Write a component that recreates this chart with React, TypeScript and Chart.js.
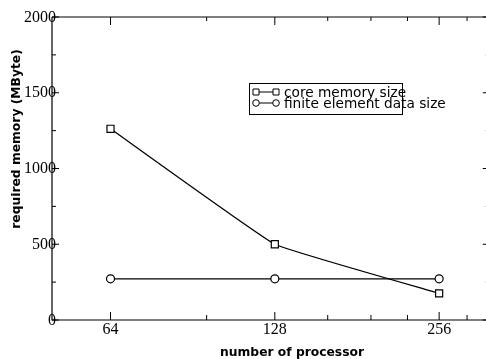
import React, { useEffect, useRef } from "react";
import { Chart, registerables } from "chart.js";

Chart.register(...registerables);

const processors = [64, 128, 256];
const coreMemory = [1262, 500, 176];
const feDataSize = [272, 272, 272];
const yTickValues = [0, 500, 1000, 1500, 2000];
const yMinorValues = [250, 750, 1250, 1750];
const xMinorValues = [96, 160, 192, 224, 288];
const seriesNames = ["core memory size", "finite element data size"];
const xTitle = "number of processor";
const yTitle = "required memory (MByte)";

const framePlugin = {
  id: "frame",
  afterDraw(chart: any) {
    const { ctx, chartArea } = chart;
    const { left, right, top, bottom } = chartArea;
    const xs = chart.scales.x;
    const ys = chart.scales.y;
    ctx.save();
    ctx.strokeStyle = "#000";
    ctx.lineWidth = 1.2;
    ctx.beginPath();
    ctx.moveTo(left, top);
    ctx.lineTo(left, bottom);
    ctx.lineTo(right, bottom);
    ctx.moveTo(left, top);
    ctx.lineTo(right, top);
    ctx.moveTo(right, top);
    ctx.lineTo(right, bottom);
    ctx.stroke();
    ctx.lineWidth = 1;
    ctx.beginPath();
    processors.forEach((v) => {
      const px = xs.getPixelForValue(v);
      ctx.moveTo(px, bottom);
      ctx.lineTo(px, bottom - 8);
      ctx.moveTo(px, top);
      ctx.lineTo(px, top + 8);
    });
    xMinorValues.forEach((v) => {
      const px = xs.getPixelForValue(v);
      ctx.moveTo(px, bottom);
      ctx.lineTo(px, bottom - 5);
      ctx.moveTo(px, top);
      ctx.lineTo(px, top + 4);
    });
    yTickValues.forEach((v) => {
      const py = ys.getPixelForValue(v);
      ctx.moveTo(left, py);
      ctx.lineTo(left + 7, py);
      ctx.moveTo(right, py);
      ctx.lineTo(right - 7, py);
    });
    yMinorValues.forEach((v) => {
      const py = ys.getPixelForValue(v);
      ctx.moveTo(left, py);
      ctx.lineTo(left + 4, py);
      ctx.moveTo(right, py);
      ctx.lineTo(right - 4, py);
    });
    ctx.stroke();

    // tick labels
    ctx.fillStyle = "#000";
    ctx.font = "16px 'Liberation Serif'";
    ctx.textBaseline = "middle";
    ctx.textAlign = "right";
    yTickValues.forEach((v) => {
      ctx.fillText(String(v), 56, ys.getPixelForValue(v) + 0.5);
    });
    ctx.textAlign = "center";
    ctx.textBaseline = "alphabetic";
    processors.forEach((v) => {
      ctx.fillText(String(v), xs.getPixelForValue(v), 334);
    });

    // axis titles
    ctx.font = "bold 12.3px 'DejaVu Sans'";
    ctx.textAlign = "center";
    ctx.textBaseline = "alphabetic";
    ctx.fillText(xTitle, 292, 356);
    ctx.save();
    ctx.translate(20, 139);
    ctx.rotate(-Math.PI / 2);
    ctx.fillText(yTitle, 0, 0);
    ctx.restore();

    // legend
    const bx = 249, by = 83, bw = 153, bh = 31;
    ctx.lineWidth = 1;
    ctx.strokeRect(bx + 0.5, by + 0.5, bw, bh);
    ctx.font = "13.7px 'DejaVu Sans'";
    ctx.textAlign = "left";
    const rows = [92, 103];
    rows.forEach((ry, i) => {
      ctx.beginPath();
      ctx.moveTo(256, ry);
      ctx.lineTo(276, ry);
      ctx.stroke();
      [256, 276].forEach((mx) => {
        ctx.beginPath();
        if (i === 0) {
          ctx.rect(mx - 3, ry - 3, 6, 6);
        } else {
          ctx.arc(mx, ry, 3.3, 0, Math.PI * 2);
        }
        ctx.fillStyle = "#fff";
        ctx.fill();
        ctx.stroke();
      });
      ctx.fillStyle = "#000";
      ctx.fillText(seriesNames[i], 284, ry + 4.5);
    });
    ctx.restore();
  },
};

export default function App() {
  const ref = useRef<HTMLCanvasElement | null>(null);
  useEffect(() => {
    if (!ref.current) return;
    const chart = new Chart(ref.current, {
      type: "line",
      data: {
        datasets: [
          {
            label: seriesNames[0],
            data: processors.map((p, i) => ({ x: p, y: coreMemory[i] })),
            borderColor: "#000",
            borderWidth: 1.3,
            tension: 0.08,
            pointStyle: "rect",
            pointRadius: 5,
            pointBackgroundColor: "#fff",
            pointBorderColor: "#000",
            pointBorderWidth: 1.2,
          },
          {
            label: seriesNames[1],
            data: processors.map((p, i) => ({ x: p, y: feDataSize[i] })),
            borderColor: "#000",
            borderWidth: 1.3,
            tension: 0,
            pointStyle: "circle",
            pointRadius: 4,
            pointBackgroundColor: "#fff",
            pointBorderColor: "#000",
            pointBorderWidth: 1.2,
          },
        ],
      },
      options: {
        animation: false,
        responsive: false,
        devicePixelRatio: 1,
        layout: { padding: { top: 17, right: 0, left: 0, bottom: 0 } },
        plugins: { legend: { display: false }, tooltip: { enabled: false } },
        scales: {
          x: {
            type: "logarithmic",
            min: 50,
            max: 317,
            afterBuildTicks: (s: any) => {
              s.ticks = processors.map((v) => ({ value: v }));
            },
            afterFit: (s: any) => {
              s.height = 39;
            },
            ticks: { display: false },
            grid: { display: false },
            border: { display: false },
          },
          y: {
            type: "linear",
            min: 0,
            max: 2000,
            afterBuildTicks: (s: any) => {
              s.ticks = yTickValues.map((v) => ({ value: v }));
            },
            afterFit: (s: any) => {
              s.width = 52;
            },
            ticks: { display: false },
            grid: { display: false },
            border: { display: false },
          },
        },
      },
      plugins: [framePlugin],
    });
    return () => chart.destroy();
  }, []);
  return (
    <div style={{ position: "fixed", left: 0, top: 0, width: 496, height: 359, background: "#fff" }}>
      <canvas ref={ref} width={496} height={359} style={{ width: 496, height: 359, display: "block" }} />
    </div>
  );
}
